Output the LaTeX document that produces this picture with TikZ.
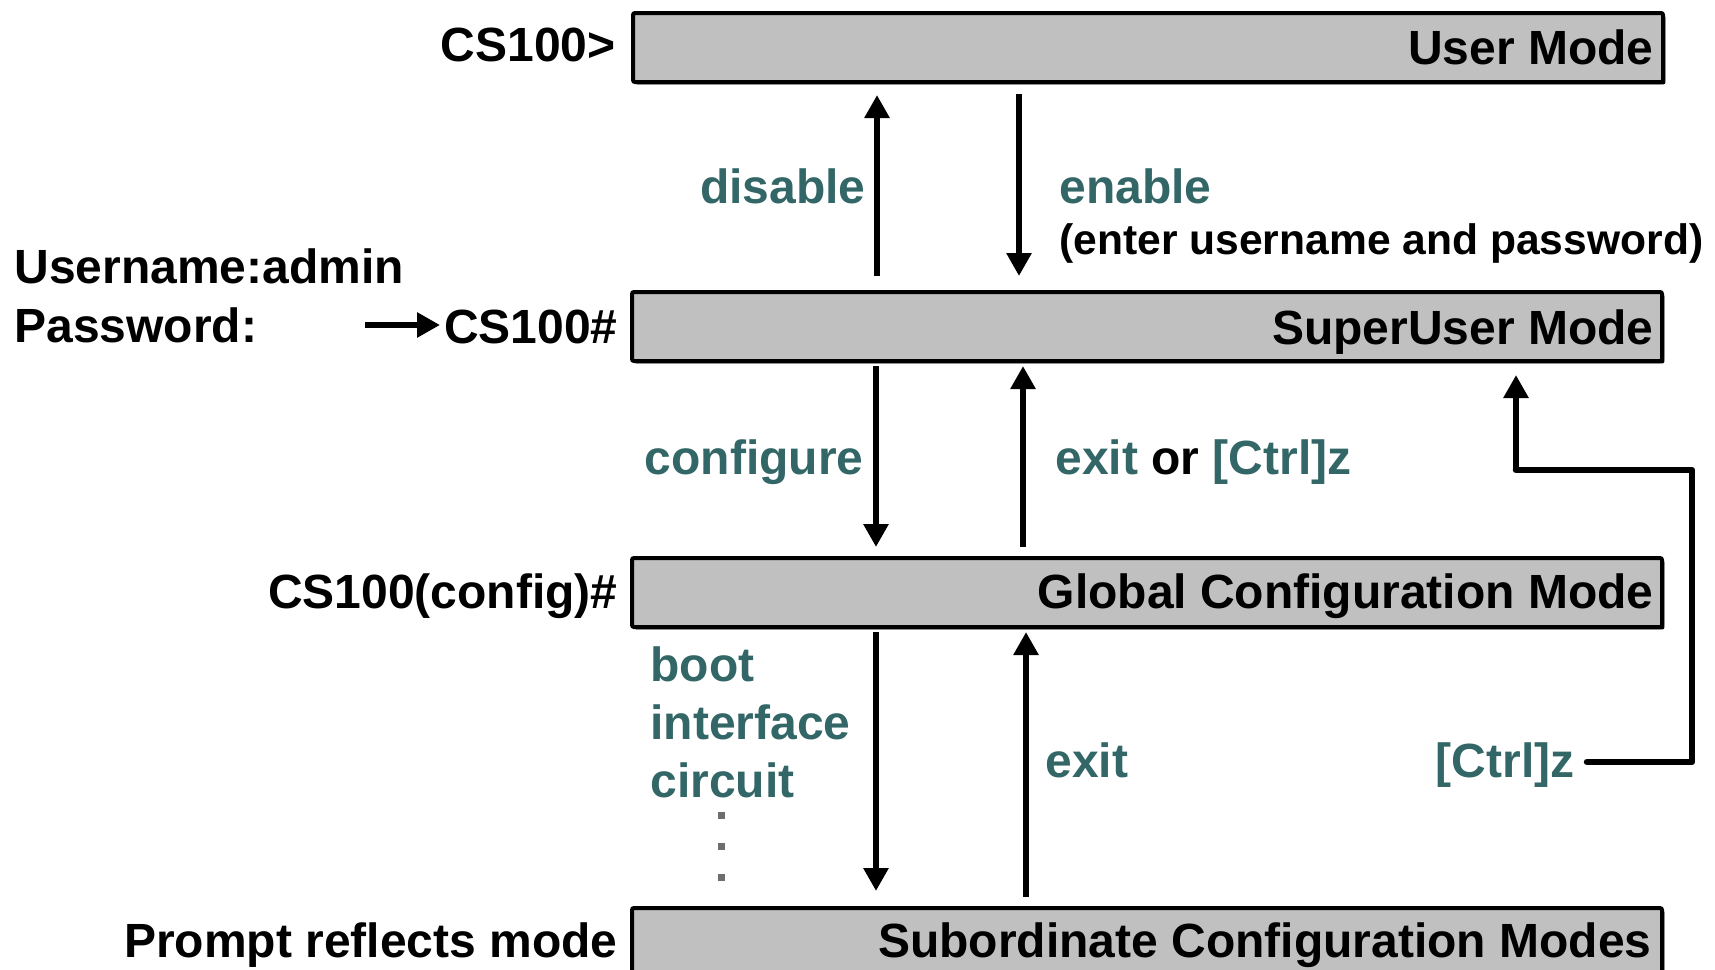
\documentclass[tikz,border=0pt]{standalone}
\usepackage{fontspec}
\setmainfont{Liberation Sans}
\usetikzlibrary{arrows.meta}
\definecolor{tealtxt}{RGB}{51,102,102}
\definecolor{boxgray}{RGB}{192,192,192}
\definecolor{dotgray}{RGB}{110,110,110}
\begin{document}
\begin{tikzpicture}[x=0.5pt,y=-0.5pt,
  lbl/.style={font=\bfseries\fontsize{24pt}{28pt}\selectfont, inner sep=0pt},
  small/.style={font=\bfseries\fontsize{21.3pt}{25pt}\selectfont, inner sep=0pt},
  cmd/.style={lbl, text=tealtxt},
  arr/.style={line width=3.25pt, -{Triangle[length=11.5pt,width=12pt]}},
  link/.style={line width=3.25pt, line cap=round, line join=round},
  modebox/.style={draw, line width=2pt, fill=boxgray, rounded corners=1pt, anchor=north west, minimum width=515pt, minimum height=34.5pt, inner sep=0pt},
  shadowbox/.style={fill=black, rounded corners=1pt, anchor=north west, minimum width=515pt, minimum height=34.5pt, inner sep=0pt},
  dotmark/.style={fill=dotgray, minimum size=3.5pt, inner sep=0pt},
]
\useasboundingbox (0,0) rectangle (1715,970);

% boxes with shadow
\node[shadowbox] (ums) at (635,15) {};
\node[modebox] (um) at (631,11) {};
\node[shadowbox] (sus) at (634,294) {};
\node[modebox] (su) at (630,290) {};
\node[shadowbox] (gcs) at (634,560) {};
\node[modebox] (gc) at (630,556) {};
\node[shadowbox] (scs) at (634,910) {};
\node[modebox] (sc) at (630,906) {};

% box labels
\node[lbl, anchor=base east] (umt) at (1654,64) {User Mode};
\node[lbl, anchor=base east] (sut) at (1654,344) {SuperUser Mode};
\node[lbl, anchor=base east] (gct) at (1654,608) {Global Configuration Mode};
\node[lbl, anchor=base east] (sct) at (1652,957) {Subordinate Configuration Modes};

% prompts
\node[lbl, anchor=base east] (p1) at (616,61) {CS100>};
\node[lbl, anchor=base east] (p2) at (618,343) {CS100\#};
\node[lbl, anchor=base east] (p3) at (618,608) {CS100(config)\#};
\node[lbl, anchor=base east] (p4) at (618,957) {Prompt reflects mode};
\node[lbl, anchor=base west] (un) at (14,283) {Username:admin};
\node[lbl, anchor=base west] (pw) at (14,342) {Password:};

% command labels
\node[cmd, anchor=base east] (dis) at (866,203) {disable};
\node[cmd, anchor=base west] (ena) at (1059,203) {enable};
\node[small, anchor=base west] (eup) at (1059,254) {(enter username and password)};
\node[cmd, anchor=base east] (cfg) at (864,474) {configure};
\node[lbl, anchor=base west] (eor) at (1055,474) {\textcolor{tealtxt}{exit} or \textcolor{tealtxt}{[Ctrl]z}};
\node[cmd, anchor=base west] (bt) at (650,681) {boot};
\node[cmd, anchor=base west] (itf) at (650,739) {interface};
\node[cmd, anchor=base west] (cir) at (650,797) {circuit};
\node[cmd, anchor=base west] (ex2) at (1045,777) {exit};
\node[cmd, anchor=base east] (cz) at (1575,777) {[Ctrl]z};

% dots
\node[dotmark] (d1) at (721,815) {};
\node[dotmark] (d2) at (721,846) {};
\node[dotmark] (d3) at (721,877) {};

% arrow endpoints
\coordinate (a1s) at (877,276); \coordinate (a1e) at (877,95);
\coordinate (a2s) at (1019,94); \coordinate (a2e) at (1019,276);
\coordinate (a3s) at (876,366); \coordinate (a3e) at (876,547);
\coordinate (a4s) at (1023,547); \coordinate (a4e) at (1023,366);
\coordinate (a5s) at (876,632); \coordinate (a5e) at (876,891);
\coordinate (a6s) at (1026,897); \coordinate (a6e) at (1026,632);
\coordinate (pws) at (365,325); \coordinate (pwe) at (440,325);
\coordinate (czr) at (1692,762);
\coordinate (czu) at (1692,470);
\coordinate (czl) at (1516,470);
\coordinate (czt) at (1516,375);

\draw[arr] (a1s) -- (a1e);
\draw[arr] (a2s) -- (a2e);
\draw[arr] (a3s) -- (a3e);
\draw[arr] (a4s) -- (a4e);
\draw[arr] (a5s) -- (a5e);
\draw[arr] (a6s) -- (a6e);
\draw[arr] (pws) -- (pwe);
\draw[link] ([xshift=6pt]cz.east |- czr) -- (czr) -- (czu) -- (czl);
\draw[arr, line join=round] (czl) -- (czt);
\end{tikzpicture}
\end{document}
